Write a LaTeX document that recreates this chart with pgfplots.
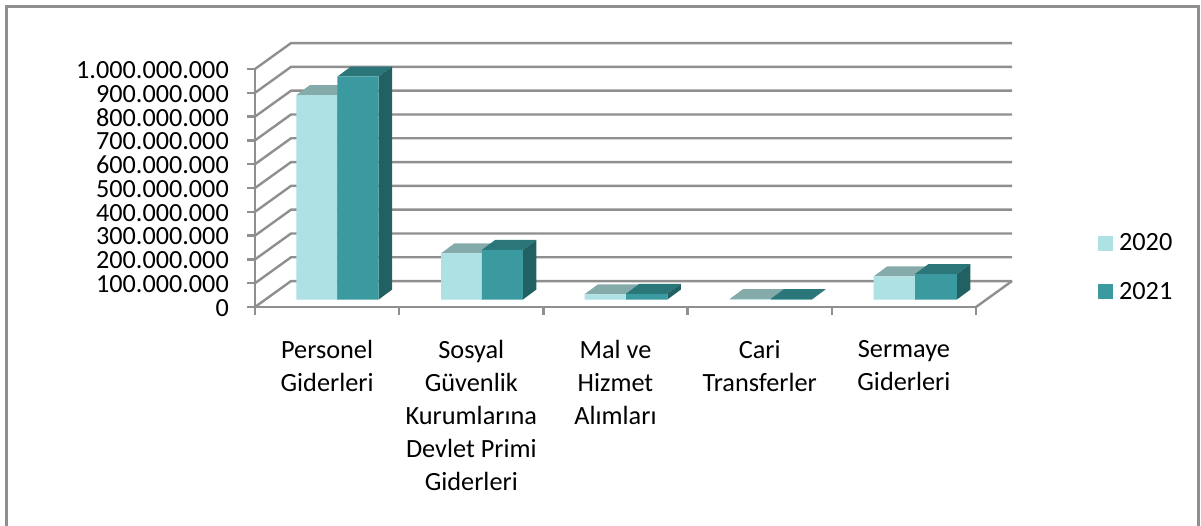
\documentclass[border=0pt]{standalone}
\usepackage{fontspec}
\setmainfont{Carlito}
\usepackage{pgfplots}
\pgfplotsset{compat=1.18}
\definecolor{gridc}{HTML}{8F8F8F}
\definecolor{frontA}{HTML}{ADE1E3}
\definecolor{topA}{HTML}{84AAAA}
\definecolor{frontB}{HTML}{3A9A9F}
\definecolor{topB}{HTML}{2A7679}
\definecolor{sideB}{HTML}{226163}
% depth of a bar in axis units, and height of its base above the front floor line
\def\bdx{0.0936}\def\bdy{42}\def\bbase{31.5}
\newcommand{\facepoly}[9]{%
  \edef\tmpplot{\noexpand\addplot[fill=#1,draw=none,forget plot] coordinates {(#2,#3) (#4,#5) (#6,#7) (#8,#9) (#2,#3)};}\tmpplot}
% \onebar{x left}{x right}{value in millions}{front}{top}
\newcommand{\onebar}[5]{%
  \pgfmathsetmacro\ytop{\bbase+#3}%
  \pgfmathsetmacro\ytb{\ytop+\bdy}%
  \pgfmathsetmacro\xlb{#1+\bdx}%
  \pgfmathsetmacro\xrb{#2+\bdx}%
  \pgfmathsetmacro\ybb{\bbase+\bdy}%
  \facepoly{#5}{#1}{\ytop}{#2}{\ytop}{\xrb}{\ytb}{\xlb}{\ytb}%
  \facepoly{sideB}{#2}{\bbase}{\xrb}{\ybb}{\xrb}{\ytb}{#2}{\ytop}%
  \facepoly{#4}{#1}{\bbase}{#2}{\bbase}{#2}{\ytop}{#1}{\ytop}%
}
\begin{document}
\begin{tikzpicture}[x=1pt,y=1pt]
\path[use as bounding box] (0,0) rectangle (1201,525);
\draw[color=gridc,line width=2.6pt] (6.3,-2) -- (6.3,518.7) -- (1198.5,518.7) -- (1198.5,-2);
\begin{axis}[
  at={(255pt,218pt)}, anchor=south west,
  scale only axis, width=721pt, height=238pt,
  xmin=0, xmax=5, ymin=0, ymax=1000,
  clip=false,
  axis lines*=left,
  axis line style={color=gridc,line width=2.4pt,-},
  tick style={color=gridc,line width=2.4pt},
  major tick length=8pt,
  tick align=outside,
  xtick={0,1,2,3,4,5}, xticklabels={},
  xtick pos=bottom, ytick pos=left,
  ytick={0,100,200,300,400,500,600,700,800,900,1000},
  yticklabels={0,100.000.000,200.000.000,300.000.000,400.000.000,500.000.000,600.000.000,700.000.000,800.000.000,900.000.000,1.000.000.000},
  yticklabel style={font=\fontsize{26.2}{26.2}\selectfont,anchor=east,inner sep=0pt,xshift=-18pt,yshift=-1pt},
  extra x ticks={0.5,1.5,2.5,3.5,4.5},
  extra x tick labels={{Personel\\Giderleri},{Sosyal\\Güvenlik\\Kurumlarına\\Devlet Primi\\Giderleri},{Mal ve\\Hizmet\\Alımları},{Cari\\Transferler},{Sermaye\\Giderleri}},
  extra tick style={major tick length=0pt},
  extra x tick style={xticklabel style={font=\fontsize{26.3}{33}\selectfont,align=center,anchor=north,yshift=-33pt,inner sep=0pt}},
  legend style={draw=none,fill=none,at={(axis cs:5.845,317)},anchor=north west,
    font=\fontsize{26.3}{26.3}\selectfont,row sep=26pt,column sep=4pt,inner sep=0pt},
  legend image code/.code={\fill[#1,draw=none] (0pt,-7.5pt) rectangle (15pt,7.5pt);},
  legend cell align=left,
]
% back wall, side wall and floor lines
\pgfplotsinvokeforeach{0,100,200,300,400,500,600,700,800,900,1000}{
  \pgfmathsetmacro\yb{#1+109}
  \edef\tmpplot{\noexpand\addplot[color=gridc,line width=2.4pt,forget plot] coordinates {(0,#1) (0.25,\yb) (5.25,\yb)};}\tmpplot
}
\addplot[color=gridc,line width=2.4pt,forget plot] coordinates {(5,0) (5.25,109)};
% Personel Giderleri
\onebar{0.287}{0.572}{859}{frontA}{topA}
\onebar{0.572}{0.858}{937}{frontB}{topB}
% Sosyal Guvenlik
\onebar{1.29}{1.574}{194}{frontA}{topA}
\onebar{1.574}{1.858}{209}{frontB}{topB}
% Mal ve Hizmet
\onebar{2.285}{2.573}{22}{frontA}{topA}
\onebar{2.573}{2.86}{24}{frontB}{topB}
% Cari Transferler
\onebar{3.292}{3.577}{2}{frontA}{topA}
\onebar{3.577}{3.862}{2}{frontB}{topB}
% Sermaye Giderleri
\onebar{4.29}{4.577}{97}{frontA}{topA}
\onebar{4.577}{4.868}{107}{frontB}{topB}
\addlegendimage{fill=frontA}
\addlegendentry{2020}
\addlegendimage{fill=frontB}
\addlegendentry{2021}
\end{axis}
\end{tikzpicture}
\end{document}
